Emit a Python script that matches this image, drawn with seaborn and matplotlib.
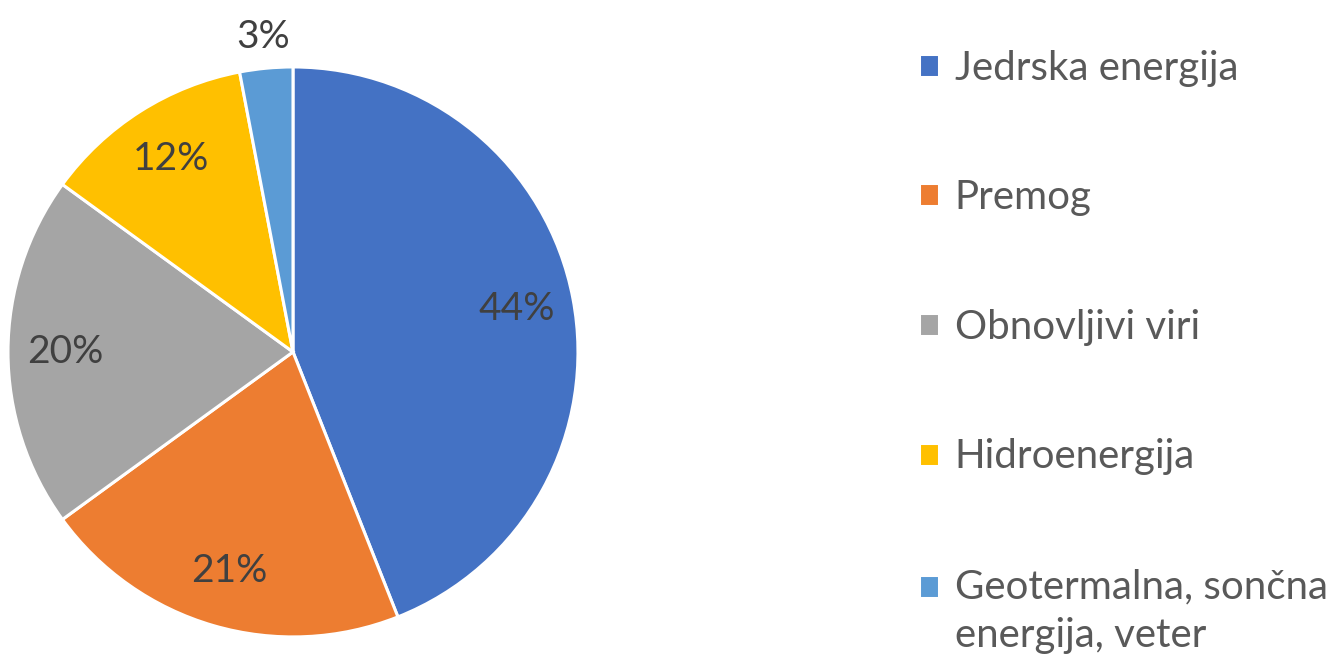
import matplotlib
matplotlib.use("Agg")
import matplotlib.pyplot as plt
import seaborn as sns
import numpy as np

categories = ["Jedrska energija", "Premog", "Obnovljivi viri", "Hidroenergija",
              "Geotermalna, sončna\nenergija, veter"]
values = [44, 21, 20, 12, 3]
colors = ["#4472C4", "#ED7D31", "#A5A5A5", "#FFC000", "#5B9BD5"]

sns.set_theme(style="white")
plt.rcParams['font.family'] = ['Lato', 'DejaVu Sans']

fig = plt.figure(figsize=(13.43, 6.56), dpi=100)
ax = fig.add_axes([0.00596, 0.029, 0.4244, 0.869])

wedges, texts, autotexts = ax.pie(
    values, colors=colors, startangle=90, counterclock=False,
    autopct=lambda p: f"{p:.0f}%", pctdistance=0.8,
    wedgeprops=dict(edgecolor="white", linewidth=2.2),
    textprops=dict(color="#404040", fontsize=28))
ax.set_xlim(-1, 1)
ax.set_ylim(-1, 1)
ax.set_aspect("equal")

# place the small slice's label outside
w = wedges[-1]
ang = np.deg2rad((w.theta1 + w.theta2) / 2)
autotexts[-1].set_position((1.11 * np.cos(ang), 1.11 * np.sin(ang)))

fs = 29
leg = fig.legend(wedges, categories, loc="upper left",
                 bbox_to_anchor=(0.672, 0.949), frameon=False,
                 fontsize=fs, labelcolor="#595959",
                 handlelength=0.5, handleheight=0.5, handletextpad=0.4,
                 labelspacing=2.3, borderaxespad=0)
for t in leg.get_texts():
    t.set_linespacing(1.4)

# align the multi-line entry's marker with its first line
h = leg.legend_handles[-1]
h.set_y(h.get_y() + 0.62 * fs)

fig.savefig("out.png", dpi=100)
